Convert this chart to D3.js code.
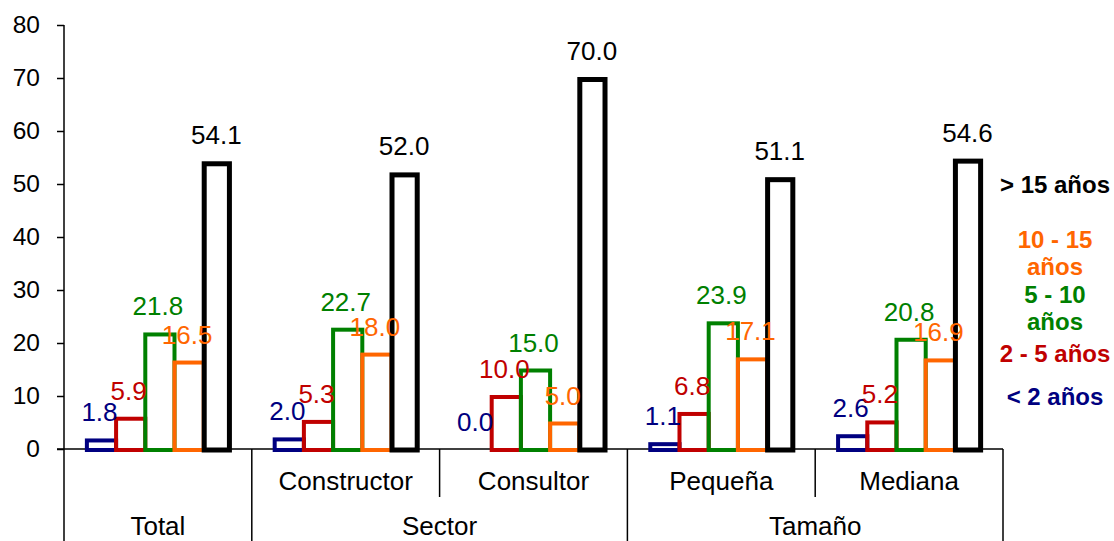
<!DOCTYPE html>
<html>
<head>
<meta charset="utf-8">
<script src="https://cdn.jsdelivr.net/npm/d3@7"></script>
<style>
  html, body { margin: 0; padding: 0; background: #fff; }
  svg { display: block; }
  text { font-family: "Liberation Sans", Arial, sans-serif; }
</style>
</head>
<body>
<svg id="chart" width="1114" height="541"></svg>
<script>
// ---- data ----
const categories = ["Total", "Constructor", "Consultor", "Pequeña", "Mediana"];
const groupLabels = [
  { label: "Total", from: 0, to: 0 },
  { label: "Sector", from: 1, to: 2 },
  { label: "Tamaño", from: 3, to: 4 }
];
const subLabels = ["", "Constructor", "Consultor", "Pequeña", "Mediana"];
const seriesNames = ["< 2 años", "2 - 5 años", "5 - 10 años", "10 - 15 años", "> 15 años"];
const seriesColors = ["#000080", "#C00000", "#008000", "#FF6600", "#000000"];
const lt2   = [1.8, 2.0, 0.0, 1.1, 2.6];
const y2to5 = [5.9, 5.3, 10.0, 6.8, 5.2];
const y5to10 = [21.8, 22.7, 15.0, 23.9, 20.8];
const y10to15 = [16.5, 18.0, 5.0, 17.1, 16.9];
const gt15  = [54.1, 52.0, 70.0, 51.1, 54.6];
const seriesValues = [lt2, y2to5, y5to10, y10to15, gt15];
const yTicks = [0, 10, 20, 30, 40, 50, 60, 70, 80];
// legend lines (text, series index), top to bottom
const legendLines = [
  { text: "> 15 años", s: 4 },
  { text: "10 - 15", s: 3 },
  { text: "años", s: 3 },
  { text: "5 - 10", s: 2 },
  { text: "años", s: 2 },
  { text: "2 - 5 años", s: 1 },
  { text: "< 2 años", s: 0 }
];

// ---- layout ----
const svg = d3.select("#chart");
const x0 = 64, x1 = 1003, yBase = 449, yTop = 25;
const fontSize = 26;

const y = d3.scaleLinear().domain([0, 80]).range([yBase, yTop]);
const xg = d3.scaleBand().domain(categories).range([x0, x1]).padding(0);
const xs = d3.scaleBand().domain(d3.range(seriesNames.length)).range([0, xg.bandwidth()])
  .paddingInner(0).paddingOuter(0.715);

// y axis
const yAxis = d3.axisLeft(y).tickValues(yTicks).tickSize(7).tickPadding(17);
const ga = svg.append("g").attr("transform", `translate(${x0},0)`).call(yAxis);
ga.select(".domain").remove();
ga.selectAll(".tick line").attr("stroke", "#000").attr("stroke-width", 1.5);
ga.selectAll(".tick text").attr("font-size", 24.5).attr("fill", "#000")
  .attr("font-family", "Liberation Sans, Arial, sans-serif");
svg.append("line").attr("x1", x0).attr("x2", x0).attr("y1", y(80)).attr("y2", 541)
  .attr("stroke", "#000").attr("stroke-width", 1.5);

// baseline
svg.append("line").attr("x1", x0 - 7).attr("x2", x1).attr("y1", yBase).attr("y2", yBase)
  .attr("stroke", "#000").attr("stroke-width", 1.5);

// bars
const sw = [4, 4, 4, 4, 5];
seriesValues.forEach((vals, s) => {
  const g = svg.append("g");
  const last = s === seriesValues.length - 1;
  categories.forEach((c, i) => {
    const v = vals[i];
    const bx = xg(c) + xs(s);
    const w = last ? xs.bandwidth() - sw[s] + 1 : xs.bandwidth();
    if (v > 0) {
      g.append("rect")
        .attr("x", bx + sw[s] / 2)
        .attr("y", y(v) + sw[s] / 2 - 1)
        .attr("width", w)
        .attr("height", Math.max(0, y(0) - y(v) - sw[s] / 2 + 2))
        .attr("fill", "none")
        .attr("stroke", seriesColors[s])
        .attr("stroke-width", sw[s]);
    }
  });
});

// value labels
seriesValues.forEach((vals, s) => {
  categories.forEach((c, i) => {
    const v = vals[i];
    svg.append("text")
      .attr("x", xg(c) + xs(s) + xs.bandwidth() / 2)
      .attr("y", y(v) - 18)
      .attr("text-anchor", "middle")
      .attr("font-size", fontSize)
      .attr("fill", seriesColors[s])
      .text(v.toFixed(1));
  });
});

// category separators and labels
const full = [1, 3, 5];
const partial = [2, 4];
const edge = i => x0 + i * xg.step();
full.forEach(i => {
  svg.append("line").attr("x1", edge(i)).attr("x2", edge(i)).attr("y1", yBase).attr("y2", 541)
    .attr("stroke", "#000").attr("stroke-width", 1.5);
});
partial.forEach(i => {
  svg.append("line").attr("x1", edge(i)).attr("x2", edge(i)).attr("y1", yBase).attr("y2", 497)
    .attr("stroke", "#000").attr("stroke-width", 1.5);
});
subLabels.forEach((t, i) => {
  if (!t) return;
  svg.append("text").attr("x", xg(categories[i]) + xg.bandwidth() / 2).attr("y", 490)
    .attr("text-anchor", "middle").attr("font-size", fontSize).attr("fill", "#000").text(t);
});
groupLabels.forEach(gl => {
  const cx = (edge(gl.from) + edge(gl.to + 1)) / 2;
  svg.append("text").attr("x", cx).attr("y", 535)
    .attr("text-anchor", "middle").attr("font-size", fontSize).attr("fill", "#000").text(gl.label);
});

// legend
const legendY = [193, 248, 275, 303, 330, 362, 405];
legendLines.forEach((l, k) => {
  svg.append("text").attr("x", 1055).attr("y", legendY[k])
    .attr("text-anchor", "middle").attr("font-size", 24).attr("font-weight", "bold")
    .attr("fill", seriesColors[l.s]).text(l.text);
});
</script>
</body>
</html>
